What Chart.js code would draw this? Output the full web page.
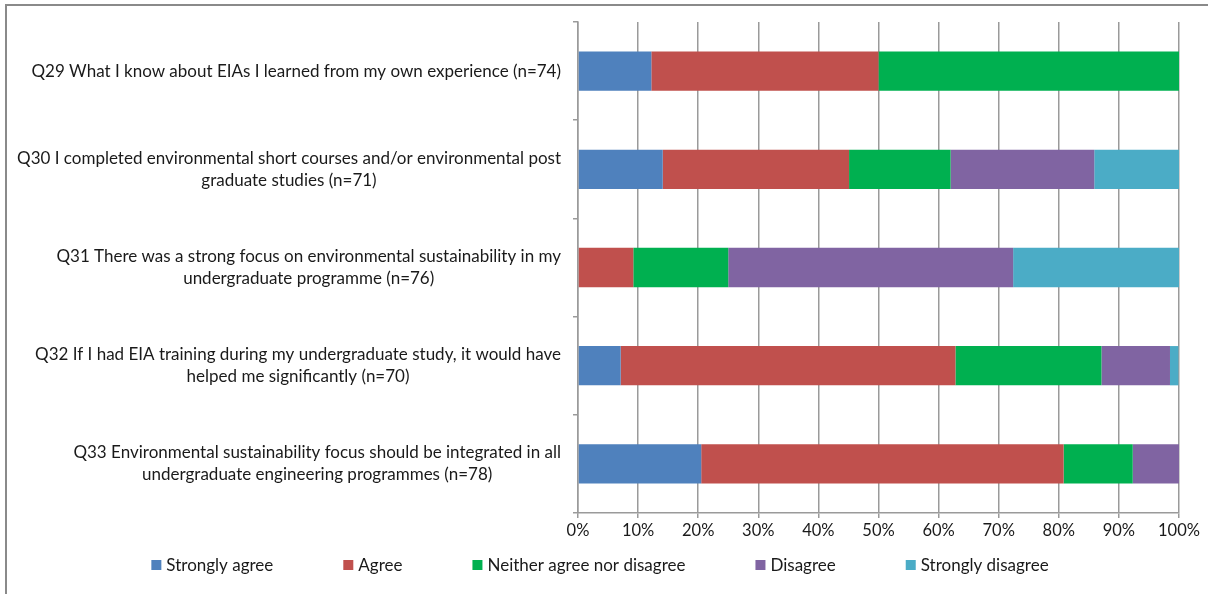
<!DOCTYPE html>
<html>
<head>
<meta charset="utf-8">
<script src="https://cdn.jsdelivr.net/npm/chart.js@4"></script>
<style>
  html, body { margin: 0; padding: 0; background: #fff; }
  #wrap { position: relative; width: 1208px; height: 594px; }
  #frame { position: absolute; left: 5px; top: 4px; right: -10px; bottom: -10px;
           border-top: 2px solid #8a8a8a; border-left: 2px solid #8a8a8a; pointer-events: none; }
  canvas { position: absolute; left: 0; top: 0; }
</style>
</head>
<body>
<div id="wrap">
  <canvas id="myChart" width="1208" height="594"></canvas>
  <div id="frame"></div>
</div>
<script>
// Question labels, already split into lines
const questions = [
  ['Q29 What I know about EIAs I learned from my own experience (n=74)'],
  ['Q30 I completed environmental short courses and/or environmental post', 'graduate studies (n=71)'],
  ['Q31 There was a strong focus on environmental sustainability in my', 'undergraduate programme (n=76)'],
  ['Q32 If I had EIA training during my undergraduate study, it would have', 'helped me significantly (n=70)'],
  ['Q33 Environmental sustainability focus should be integrated in all', 'undergraduate engineering programmes (n=78)']
]

const responses = ['Strongly agree', 'Agree', 'Neither agree nor disagree', 'Disagree', 'Strongly disagree']
const colors = ['#4F81BD', '#C0504D', '#00B050', '#8064A2', '#4BACC6']

// Share of respondents (%)
const stronglyAgree    = [12.2, 14.1,  0.0,  7.1, 20.5]
const agree            = [37.8, 31.0,  9.2, 55.7, 60.3]
const neither          = [50.0, 16.9, 15.8, 24.3, 11.5]
const disagree         = [ 0.0, 23.9, 47.4, 11.4,  7.7]
const stronglyDisagree = [ 0.0, 14.1, 27.6,  1.4,  0.0]

const xTicks = [0, 10, 20, 30, 40, 50, 60, 70, 80, 90, 100]

const FONT = 'Lato, "Open Sans", sans-serif'
const TEXT = '#1a1a1a'
const GRID = '#9a9a9a'

// Category labels: each line centred within its block, block right-aligned to the axis
const questionLabels = {
    id: 'questionLabels',
    afterDraw(chart) {
        const ctx = chart.ctx
        const y = chart.scales.y
        ctx.save()
        ctx.font = '17px ' + FONT
        ctx.fillStyle = TEXT
        ctx.textAlign = 'center'
        ctx.textBaseline = 'middle'
        const right = y.right - 17
        const lineH = 22
        questions.forEach((lines, i) => {
            const cy = y.getPixelForValue(i)
            const w = Math.max(...lines.map(l => ctx.measureText(l).width))
            const cx = right - w / 2
            const top = cy - (lines.length - 1) * lineH / 2
            lines.forEach((l, j) => ctx.fillText(l, cx, top + j * lineH))
        })
        ctx.restore()
    }
}

// Legend row with wide, even gaps between entries
const wideLegend = {
    id: 'wideLegend',
    afterDraw(chart) {
        const ctx = chart.ctx
        ctx.save()
        ctx.font = '17px ' + FONT
        ctx.textBaseline = 'middle'
        const box = 10, gapText = 5, gapItem = 70
        const widths = responses.map(r => box + gapText + ctx.measureText(r).width)
        const total = widths.reduce((a, b) => a + b, 0) + gapItem * (responses.length - 1)
        let x = chart.width / 2 - 4 - total / 2
        const cy = 565
        responses.forEach((r, i) => {
            ctx.fillStyle = colors[i]
            ctx.fillRect(x, cy - box / 2, box, box)
            ctx.fillStyle = TEXT
            ctx.fillText(r, x + box + gapText, cy + 1)
            x += widths[i] + gapItem
        })
        ctx.restore()
    }
}

const series = [stronglyAgree, agree, neither, disagree, stronglyDisagree]

const ctx = document.getElementById('myChart').getContext('2d')
const myChart = new Chart(ctx, {
    type: 'bar',
    data: {
        labels: questions,
        datasets: series.map((values, i) => ({
            label: responses[i],
            data: values,
            backgroundColor: colors[i],
            borderWidth: 0,
            barPercentage: 0.4,
            categoryPercentage: 1.0
        }))
    },
    options: {
        indexAxis: 'y',
        responsive: false,
        animation: false,
        layout: {
            padding: { top: 22, right: 29, left: 0, bottom: 0 }
        },
        scales: {
            x: {
                stacked: true,
                min: 0,
                max: 100,
                afterBuildTicks: scale => { scale.ticks = xTicks.map(v => ({ value: v })) },
                afterFit: scale => { scale.height = 81 },
                ticks: {
                    font: { family: FONT, size: 16.5 },
                    color: TEXT,
                    padding: 3,
                    callback: v => v + '%'
                },
                grid: {
                    color: GRID,
                    lineWidth: 1.5,
                    tickLength: 5
                },
                border: { color: GRID, width: 1.5 }
            },
            y: {
                stacked: true,
                afterFit: scale => { scale.width = 578 },
                ticks: { display: false },
                grid: {
                    offset: true,
                    drawOnChartArea: false,
                    color: GRID,
                    lineWidth: 1.5,
                    tickLength: 5
                },
                border: { color: GRID, width: 1.5 }
            }
        },
        plugins: {
            legend: { display: false },
            tooltip: { enabled: false }
        }
    },
    plugins: [questionLabels, wideLegend]
})
</script>
</body>
</html>
